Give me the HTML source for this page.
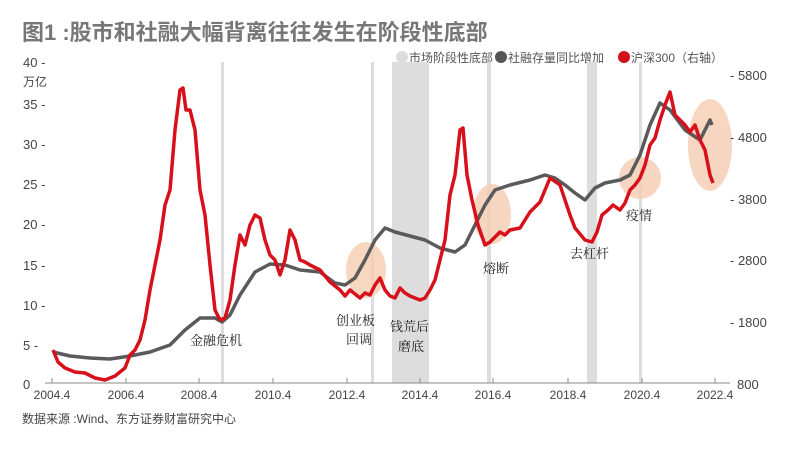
<!DOCTYPE html>
<html><head><meta charset="utf-8"><style>
body{margin:0;background:#fff;}
svg text{font-family:"Liberation Sans","Noto Sans CJK SC",sans-serif;}
</style></head><body>
<svg width="800" height="453" viewBox="0 0 800 453" xmlns="http://www.w3.org/2000/svg">
<rect width="800" height="453" fill="#fff"/>
<text x="22" y="40" font-size="22" font-weight="bold" fill="#777">图1 :股市和社融大幅背离往往发生在阶段性底部</text>
<!-- legend -->
<circle cx="402" cy="57" r="6" fill="#ddd"/><text x="409" y="62" font-size="12" fill="#555">市场阶段性底部</text>
<circle cx="501" cy="57" r="6" fill="#555"/><text x="508" y="62" font-size="12" fill="#555">社融存量同比增加</text>
<circle cx="624" cy="57" r="6" fill="#d0111b"/><text x="631" y="62" font-size="12" fill="#555">沪深300（右轴）</text>
<!-- bands -->
<g fill="#ddd">
<rect x="221" y="62" width="3" height="321"/>
<rect x="371" y="62" width="3" height="321"/>
<rect x="392" y="62" width="37" height="321"/>
<rect x="487" y="62" width="4" height="321"/>
<rect x="587" y="62" width="10" height="321"/>
<rect x="639" y="62" width="3" height="321"/>
</g>
<!-- highlight ellipses -->
<g fill="#f6cdb2" opacity="0.8">
<ellipse cx="366" cy="270" rx="20" ry="28"/>
<ellipse cx="492" cy="214" rx="19" ry="30"/>
<ellipse cx="640" cy="178" rx="21" ry="21"/>
<ellipse cx="710" cy="145" rx="22" ry="46"/>
</g>
<!-- axes -->
<line x1="45" y1="383" x2="730" y2="383" stroke="#888" stroke-width="1"/>
<g stroke="#888"><line x1="52" y1="378" x2="52" y2="383"/><line x1="126" y1="378" x2="126" y2="383"/><line x1="199" y1="378" x2="199" y2="383"/><line x1="273" y1="378" x2="273" y2="383"/><line x1="347" y1="378" x2="347" y2="383"/><line x1="420" y1="378" x2="420" y2="383"/><line x1="493" y1="378" x2="493" y2="383"/><line x1="568" y1="378" x2="568" y2="383"/><line x1="642" y1="378" x2="642" y2="383"/><line x1="715" y1="378" x2="715" y2="383"/></g>
<g font-size="12" fill="#444" text-anchor="middle">
<text x="52" y="399">2004.4</text><text x="126" y="399">2006.4</text><text x="199" y="399">2008.4</text><text x="273" y="399">2010.4</text><text x="347" y="399">2012.4</text><text x="420" y="399">2014.4</text><text x="493" y="399">2016.4</text><text x="568" y="399">2018.4</text><text x="642" y="399">2020.4</text><text x="715" y="399">2022.4</text>
</g>
<g font-size="13" fill="#444">
<text x="23" y="67">40 -</text><text x="23" y="86" font-size="12">万亿</text>
<text x="23" y="109">35 -</text><text x="23" y="149">30 -</text><text x="23" y="189">25 -</text><text x="23" y="229">20 -</text><text x="23" y="270">15 -</text><text x="23" y="310">10 -</text><text x="23" y="350">5 -</text><text x="23" y="389">0</text>
<text x="730" y="80">- 5800</text><text x="730" y="142">- 4800</text><text x="730" y="204">- 3800</text><text x="730" y="265">- 2800</text><text x="730" y="327">- 1800</text><text x="737" y="389">800</text>
</g>
<!-- gray series -->
<polyline fill="none" stroke="#5a5a5a" stroke-width="3.5" stroke-linejoin="round" points="53,352 70,356 90,358 110,359 130,356 150,352 170,345 185,330 200,318 215,318 222,322 230,315 240,295 255,272 270,264 285,265 300,270 320,272 335,283 345,285 355,278 365,260 375,240 385,228 395,232 410,236 425,240 440,248 455,252 465,245 475,225 485,205 495,190 510,185 530,180 545,175 555,178 565,185 575,193 585,200 595,188 605,183 620,180 630,175 640,155 650,125 660,103 670,110 685,130 700,140 710,120 712,125"/>
<!-- red series -->
<polyline fill="none" stroke="#d7101b" stroke-width="3.5" stroke-linejoin="round" points="53,350 58,362 65,368 75,372 85,373 95,378 105,380 115,376 125,368 130,355 135,350 140,340 145,320 150,290 155,265 160,240 165,205 170,190 175,130 180,90 183,88 186,110 190,110 195,130 200,190 205,215 210,265 215,310 220,320 225,318 230,300 235,265 240,235 245,245 250,225 255,215 260,218 265,240 270,255 275,260 280,275 285,260 290,230 295,240 300,260 305,262 310,265 320,270 330,282 340,290 345,296 350,290 355,294 360,298 365,293 370,295 375,285 380,278 385,290 390,296 395,298 400,288 405,293 410,296 415,298 420,300 425,298 430,290 435,280 440,260 445,240 450,195 455,175 460,130 463,128 467,175 472,200 478,225 485,245 490,242 500,232 505,235 510,230 520,228 530,212 540,202 545,190 550,178 560,185 565,200 570,215 575,228 585,240 592,242 597,232 602,215 608,210 613,205 620,210 625,203 630,190 635,185 640,178 645,165 650,145 655,138 660,120 665,105 670,92 675,115 680,120 685,125 690,132 695,125 700,140 705,150 710,175 713,183"/>
<!-- annotations -->
<g font-size="13" fill="#222" font-family="'Noto Serif CJK SC',serif">
<text x="190" y="345" style="font-family:'Noto Serif CJK SC',serif">金融危机</text>
<text x="336" y="325" style="font-family:'Noto Serif CJK SC',serif">创业板</text>
<text x="346" y="344" style="font-family:'Noto Serif CJK SC',serif">回调</text>
<text x="390" y="331" style="font-family:'Noto Serif CJK SC',serif">钱荒后</text>
<text x="398" y="351" style="font-family:'Noto Serif CJK SC',serif">磨底</text>
<text x="483" y="273" style="font-family:'Noto Serif CJK SC',serif">熔断</text>
<text x="570" y="258" style="font-family:'Noto Serif CJK SC',serif">去杠杆</text>
<text x="626" y="220" style="font-family:'Noto Serif CJK SC',serif">疫情</text>
</g>
<text x="22" y="423" font-size="12" fill="#444">数据来源 :Wind、东方证券财富研究中心</text>
</svg>
</body></html>
